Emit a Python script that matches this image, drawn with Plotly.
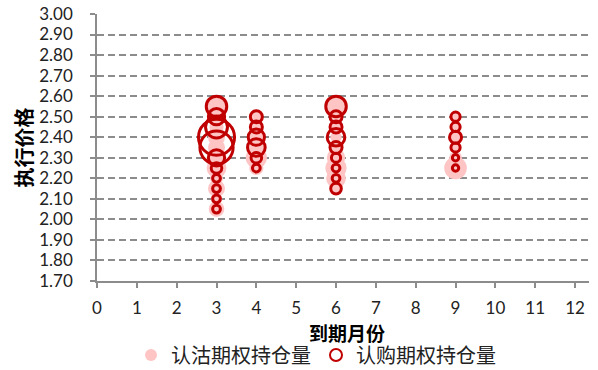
import plotly.graph_objects as go

# ---- data ----
x_ticks = list(range(0, 13))
y_ticks = [round(1.7 + 0.1 * i, 2) for i in range(14)]
x_title = "到期月份"
y_title = "执行价格"

put_month = [3]*11 + [4]*6 + [6]*9 + [9]*6
put_strike = [2.05, 2.10, 2.15, 2.20, 2.25, 2.30, 2.35, 2.40, 2.45, 2.50, 2.55,
              2.25, 2.30, 2.35, 2.40, 2.45, 2.50,
              2.15, 2.20, 2.25, 2.30, 2.35, 2.40, 2.45, 2.50, 2.55,
              2.25, 2.30, 2.35, 2.40, 2.45, 2.50]
put_oi = [1790, 950, 2130, 1200, 2900, 2900, 2130, 2130, 1480, 950, 2900,
          1480, 3330, 2130, 2130, 950, 950,
          1200, 2900, 3330, 2500, 1480, 950, 950, 950, 2900,
          3790, 1200, 950, 1480, 950, 950]

call_month = [3]*11 + [4]*6 + [6]*9 + [9]*6
call_strike = [2.05, 2.10, 2.15, 2.20, 2.25, 2.30, 2.35, 2.40, 2.45, 2.50, 2.55,
               2.25, 2.30, 2.35, 2.40, 2.45, 2.50,
               2.15, 2.20, 2.25, 2.30, 2.35, 2.40, 2.45, 2.50, 2.55,
               2.25, 2.30, 2.35, 2.40, 2.45, 2.50]
call_oi = [450, 450, 450, 450, 830, 1960, 8170, 9620, 3560, 1960, 3110,
           450, 830, 2310, 1960, 1070, 1070,
           830, 450, 450, 625, 1070, 2310, 1070, 1070, 3110,
           300, 300, 625, 1070, 625, 625]

SIZEREF = 14.8
PUT_COLOR = "#FFC5C5"
CALL_COLOR = "#C00000"
FONT = "Lato, 'Noto Sans CJK SC', sans-serif"
CJK = "'Noto Sans CJK SC', sans-serif"

fig = go.Figure()
fig.add_trace(go.Scatter(
    x=put_month, y=put_strike, mode="markers", name="认沽期权持仓量",
    marker=dict(size=put_oi, sizemode="area", sizeref=SIZEREF,
                color=PUT_COLOR, line=dict(width=0), opacity=1),
))
fig.add_trace(go.Scatter(
    x=call_month, y=call_strike, mode="markers", name="认购期权持仓量",
    marker=dict(size=call_oi, sizemode="area", sizeref=SIZEREF, opacity=1,
                color="rgba(0,0,0,0)", line=dict(width=3, color=CALL_COLOR)),
))

fig.update_layout(
    width=598, height=370,
    margin=dict(l=97, r=9, t=14, b=89, autoexpand=False),
    paper_bgcolor="white", plot_bgcolor="white",
    font=dict(family=FONT, size=17, color="#000000"),
    showlegend=True,
    legend=dict(orientation="h", x=(316 - 97) / 492, xanchor="center",
                yref="container", y=1 - 355 / 370, yanchor="middle",
                font=dict(family=CJK, size=20, color="#222"),
                itemsizing="constant", itemwidth=30, tracegroupgap=0,
                bgcolor="rgba(0,0,0,0)"),
    xaxis=dict(
        range=[0, 12.35], tickvals=x_ticks, ticktext=[str(v) for v in x_ticks],
        showgrid=False, zeroline=False, automargin=False,
        showline=True, linecolor="#8c8c8c", linewidth=1.5,
        ticks="outside", ticklen=5, tickcolor="#8c8c8c", tickwidth=1.5,
        ticklabelstandoff=6,
        tickfont=dict(family=FONT, size=17, color="#222"),
    ),
    yaxis=dict(
        range=[1.7, 3.0], tickvals=y_ticks, ticktext=[f"{v:.2f}" for v in y_ticks],
        showgrid=True, gridcolor="#8c8c8c", gridwidth=1.5, griddash="7px,4px",
        zeroline=False, automargin=False,
        showline=True, linecolor="#8c8c8c", linewidth=1.5,
        ticks="outside", ticklen=5, tickcolor="#8c8c8c", tickwidth=1.5,
        ticklabelstandoff=14,
        tickfont=dict(family=FONT, size=17, color="#222"),
    ),
    annotations=[
        dict(text=f"<b>{x_title}</b>", xref="paper", x=(347 - 97) / 492,
             yref="paper", y=(281 - 333) / 268,
             xanchor="center", yanchor="middle", showarrow=False,
             font=dict(family=CJK, size=19, color="#000")),
        dict(text=f"<b>{y_title}</b>", xref="paper", x=(23 - 97) / 492, yref="paper", y=0.5,
             xanchor="center", yanchor="middle", showarrow=False, textangle=-90,
             font=dict(family=CJK, size=20, color="#000")),
    ],
)

fig.write_html("out.html")
